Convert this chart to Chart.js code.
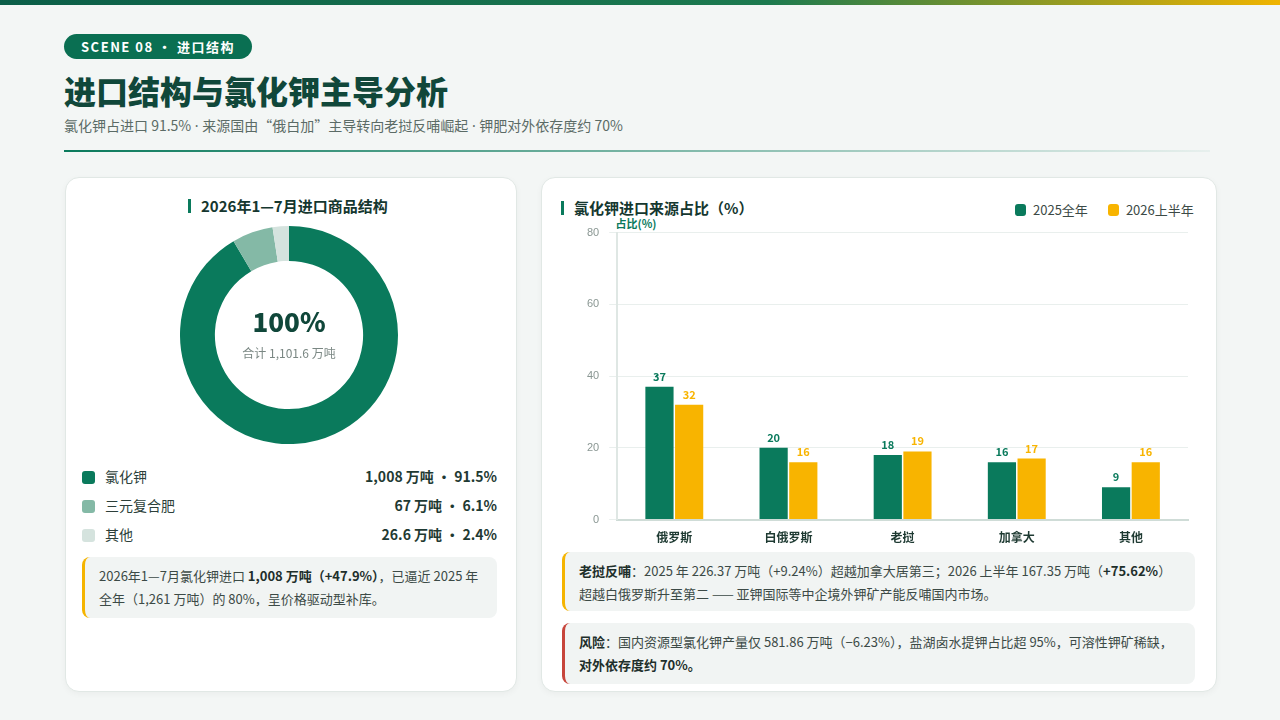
<!DOCTYPE html>
<html><head><meta charset="utf-8">
<script src="https://cdn.jsdelivr.net/npm/chart.js@4"></script>
<style>
body{margin:0;width:1280px;height:720px;overflow:hidden;background:#f3f6f5;font-family:"Noto Sans CJK SC","Noto Sans",sans-serif;position:relative;color:#1e3a32}
.topbar{position:absolute;left:0;top:0;width:1280px;height:5px;background:linear-gradient(90deg,#0b5e48,#1c7a4f 60%,#f0b400)}
.badge{position:absolute;left:64px;top:34px;height:25px;padding:0 17px;border-radius:13px;background:#0a6f52;color:#fff;font-size:13px;font-weight:700;line-height:25px;letter-spacing:1.5px}
h1{position:absolute;left:64px;top:67px;margin:0;font-size:32px;font-weight:900;color:#10473a}
.sub{position:absolute;left:64px;top:115px;font-size:14px;color:#5b6b66}
.div{position:absolute;left:64px;top:150px;width:1146px;height:2px;background:linear-gradient(90deg,#0a7a5c,rgba(10,122,92,0.05))}
.card{position:absolute;background:#fff;border-radius:14px;border:1px solid #e1e8e5;box-shadow:0 2px 6px rgba(0,0,0,0.04)}
.ct{position:absolute;font-size:15px;font-weight:700;color:#15372f;padding-left:10px;border-left:3px solid #0a7a5c;line-height:14px}
.leg{position:absolute;left:82px;width:415px;font-size:14px;color:#2d3f3a}
.leg span.sq{display:inline-block;width:13px;height:13px;border-radius:3px;vertical-align:-2px;margin-right:10px}
.leg b{float:right;color:#1f3a33}
.note{position:absolute;background:#f1f4f3;border-radius:8px;font-size:13px;line-height:23px;color:#3c4a46;padding:7px 14px 7px 14px;box-sizing:border-box}
.note b{color:#1e2f2b}
</style></head><body>
<div class="topbar"></div>
<div class="badge">SCENE 08 • 进口结构</div>
<h1>进口结构与氯化钾主导分析</h1>
<div class="sub">氯化钾占进口 91.5%<span style="font-family:'Noto Sans'"> · </span>来源国由“俄白加”主导转向老挝反哺崛起<span style="font-family:'Noto Sans'"> · </span>钾肥对外依存度约 70%</div>
<div class="div"></div>

<div class="card" style="left:65px;top:177px;width:450px;height:513px"></div>
<div class="ct" style="left:188px;top:199px">2026年1—7月进口商品结构</div>
<div style="position:absolute;left:180px;top:226px;width:218px;height:218px"><canvas id="pie"></canvas></div>
<div style="position:absolute;left:189px;top:302px;width:200px;text-align:center;font-size:26px;font-weight:800;color:#10473a">100%</div>
<div style="position:absolute;left:189px;top:344px;width:200px;text-align:center;font-size:12px;color:#7a8783">合计 1,101.6 万吨</div>
<div id="legend"></div>
<div class="note" style="left:82px;top:557px;width:415px;height:61px;border-left:3px solid #f5b400">2026年1—7月氯化钾进口 <b>1,008 万吨（+47.9%）</b>，已逼近 2025 年全年（1,261 万吨）的 80%，呈价格驱动型补库。</div>

<div class="card" style="left:541px;top:177px;width:674px;height:513px"></div>
<div class="ct" style="left:561px;top:201px">氯化钾进口来源占比（%）</div>
<div style="position:absolute;left:1015px;top:200px;font-size:13px;color:#3c4a46"><span style="display:inline-block;width:11px;height:12px;border-radius:3px;background:#0a7a5c;vertical-align:-1px;margin-right:7px"></span>2025全年<span style="display:inline-block;width:11px;height:12px;border-radius:3px;background:#f8b400;vertical-align:-1px;margin:0 7px 0 20px"></span>2026上半年</div>
<div style="position:absolute;left:606px;top:215px;font-size:11px;font-weight:700;color:#0a7a5c;width:60px;text-align:center">占比(%)</div>
<div style="position:absolute;left:560px;top:216px;width:636px;height:332px"><canvas id="bar"></canvas></div>
<div class="note" style="left:562px;top:552px;width:633px;height:59px;border-left:3px solid #f5b400"><b>老挝反哺</b>：2025 年 226.37 万吨（+9.24%）超越加拿大居第三；2026 上半年 167.35 万吨（<b>+75.62%</b>）超越白俄罗斯升至第二 —— 亚钾国际等中企境外钾矿产能反哺国内市场。</div>
<div class="note" style="left:562px;top:623px;width:633px;height:61px;border-left:3px solid #c7453b"><b>风险</b>：国内资源型氯化钾产量仅 581.86 万吨（−6.23%），盐湖卤水提钾占比超 95%，可溶性钾矿稀缺，<b>对外依存度约 70%。</b></div>

<script>
const pieLabels = ['氯化钾', '三元复合肥', '其他'];
const pieValues = [1008, 67, 26.6];
const pieShares = [91.5, 6.1, 2.4];
const pieColors = ['#0a7a5c', '#84b9a6', '#d5e3de'];

const countries = ['俄罗斯', '白俄罗斯', '老挝', '加拿大', '其他'];
const share2025 = [37, 20, 18, 16, 9];
const share2026 = [32, 16, 19, 17, 16];
const yTicks = [0, 20, 40, 60, 80];

let legendHtml = '';
pieLabels.forEach((l, i) => {
  legendHtml += `<div class="leg" style="top:${466 + i * 29}px"><span class="sq" style="background:${pieColors[i]}"></span>${l}<b>${pieValues[i].toLocaleString()} 万吨 • ${pieShares[i]}%</b></div>`;
});
document.getElementById('legend').innerHTML = legendHtml;

new Chart(document.getElementById('pie'), {
  type: 'doughnut',
  data: { labels: pieLabels, datasets: [{ data: pieValues, backgroundColor: pieColors, borderWidth: 0 }] },
  options: { animation: false, cutout: '68%', responsive: true, maintainAspectRatio: false,
    plugins: { legend: { display: false }, tooltip: { enabled: false } } }
});

const barValueLabels = {
  id: 'barValueLabels',
  afterDatasetsDraw(chart) {
    const ctx = chart.ctx;
    chart.data.datasets.forEach((ds, di) => {
      chart.getDatasetMeta(di).data.forEach((bar, i) => {
        ctx.save();
        ctx.fillStyle = ds.backgroundColor;
        ctx.font = 'bold 11px "Noto Sans CJK SC"';
        ctx.textAlign = 'center';
        ctx.fillText(ds.data[i], bar.x, bar.y - 6);
        ctx.restore();
      });
    });
  }
};

new Chart(document.getElementById('bar'), {
  type: 'bar',
  data: { labels: countries, datasets: [
    { label: '2025全年', data: share2025, backgroundColor: '#0a7a5c', barPercentage: 0.95, categoryPercentage: 0.52 },
    { label: '2026上半年', data: share2026, backgroundColor: '#f8b400', barPercentage: 0.95, categoryPercentage: 0.52 }
  ] },
  options: { animation: false, responsive: true, maintainAspectRatio: false,
    layout: { padding: { top: 0, right: 8, left: 17 } },
    plugins: { legend: { display: false }, tooltip: { enabled: false } },
    scales: {
      x: { grid: { display: false }, border: { color: '#cfdcd7', width: 2 },
        ticks: { color: '#1e3a32', font: { size: 12, weight: 'bold', family: 'Noto Sans CJK SC' } } },
      y: { min: 0, max: 80, afterBuildTicks: s => { s.ticks = yTicks.map(v => ({ value: v })); },
        grid: { color: '#e9efed' }, border: { color: '#dfe7e4', width: 2 },
        ticks: { color: '#8a9793', font: { size: 11 }, padding: 10 } }
    } },
  plugins: [barValueLabels]
});
</script>
</body></html>
